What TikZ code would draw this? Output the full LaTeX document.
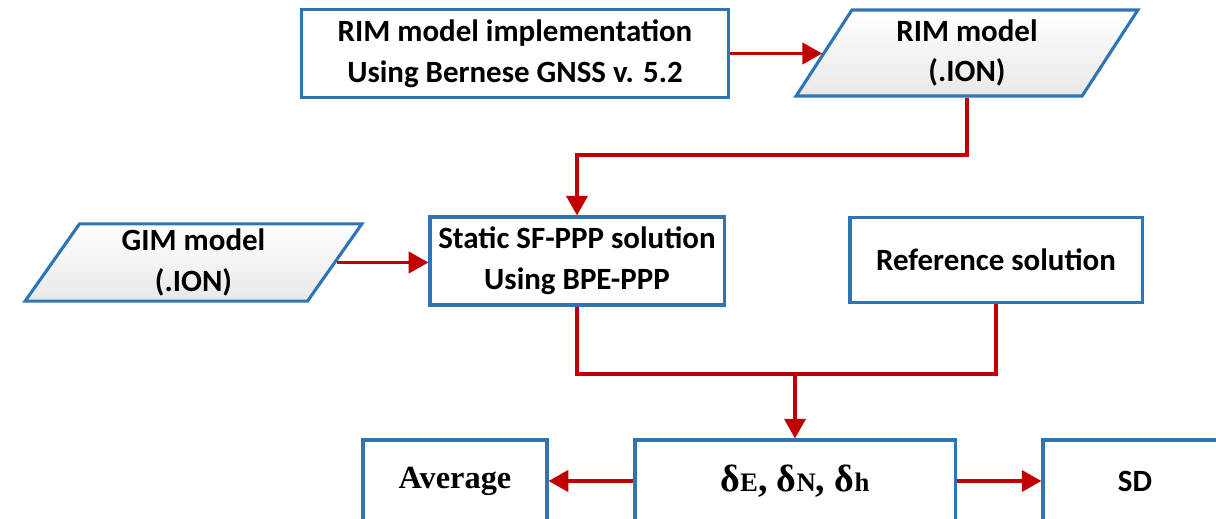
\documentclass[tikz,border=0pt]{standalone}
\usepackage{fontspec}
\setmainfont{Carlito}
\newfontfamily\timesfont{Liberation Serif}
\usepackage{xcolor}
\usetikzlibrary{shapes.geometric,arrows.meta}
\definecolor{boxblue}{HTML}{2E75B6}
\definecolor{flowred}{HTML}{C00000}
\newcommand{\smallsub}[1]{{\fontsize{19}{19}\selectfont #1}}

\begin{document}
\begin{tikzpicture}[x=0.025cm, y=-0.025cm,
    procbox/.style={draw=boxblue, line width=2.2pt, fill=white, align=center, inner sep=0pt,
        font=\bfseries\fontsize{22}{29}\selectfont},
    databox/.style={procbox, trapezium, trapezium left angle=63, trapezium right angle=117,
        trapezium stretches=true, top color=white, bottom color=black!9},
    flowarrow/.style={flowred, line width=2.6pt, -{Triangle[length=14pt,width=15pt]}}]
    \useasboundingbox (0,0) rectangle (1216,519);
    \clip (0,0) rectangle (1216,519);

    % top row
    \node[procbox, minimum width=10.68cm, minimum height=2.18cm] (impl) at (515,53.5)
        {RIM model implementation\\Using Bernese GNSS v. 5.2};
    \node[databox, minimum width=8.55cm, minimum height=2.15cm] (rim) at (967,53)
        {RIM model\\(.ION)};

    % middle row
    \node[databox, minimum width=8.43cm, minimum height=1.93cm] (gim) at (193.5,262.5)
        {GIM model\\(.ION)};
    \node[procbox, minimum width=7.35cm, minimum height=2.2cm] (static) at (577,261)
        {Static SF-PPP solution\\Using BPE-PPP};
    \node[procbox, minimum width=7.3cm, minimum height=2.13cm] (ref) at (996,260)
        {Reference solution};

    % bottom row (runs off the lower edge)
    \node[procbox, minimum width=8cm, minimum height=2.05cm] (delta) at (795,481)
        {\timesfont\fontsize{27}{29}\selectfont δ\smallsub{E}, δ\smallsub{N}, δ\smallsub{h}};
    \node[procbox, minimum width=4.6cm, minimum height=2.05cm] (avg) at (455,481)
        {\timesfont\fontsize{23}{29}\selectfont Average};
    \node[procbox, minimum width=4.6cm, minimum height=2.05cm] (sd) at (1135,481)
        {SD};

    \coordinate (upper) at (0,155);
    \coordinate (lower) at (0,374);

    \draw[flowarrow] (impl.east) -- (impl.east -| rim.west);
    \draw[flowarrow] (rim.south) |- (upper -| static.north) -- (static.north);
    \draw[flowarrow] (gim.east) -- (gim.east -| static.west);
    \draw[flowred, line width=2.6pt] (static.south) |- (lower -| ref.south) -- (ref.south);
    \draw[flowarrow] (lower -| delta.north) -- (delta.north);
    \draw[flowarrow] (delta.west) -- (avg.east);
    \draw[flowarrow] (delta.east) -- (sd.west);
\end{tikzpicture}
\end{document}
